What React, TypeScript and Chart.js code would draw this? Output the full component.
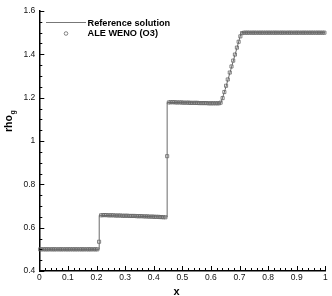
import React, { useEffect, useRef } from "react";
import { Chart, registerables } from "chart.js";

Chart.register(...registerables);

// Reference (exact) solution polyline
const refX = [0, 0.2095, 0.2095, 0.447, 0.447, 0.635, 0.65, 0.67, 0.69, 0.706, 1];
const refY = [0.5, 0.5, 0.657, 0.649, 1.178, 1.175, 1.238, 1.331, 1.424, 1.5, 1.5];

// ALE WENO (O3) cell values
const wenoX = [
  0.003, 0.009, 0.016, 0.022, 0.028, 0.034, 0.041, 0.047,
  0.053, 0.059, 0.066, 0.072, 0.078, 0.084, 0.091, 0.097,
  0.103, 0.109, 0.116, 0.122, 0.128, 0.134, 0.141, 0.147,
  0.153, 0.159, 0.166, 0.172, 0.178, 0.184, 0.191, 0.197,
  0.203, 0.209, 0.216, 0.222, 0.228, 0.234, 0.241, 0.247,
  0.253, 0.259, 0.266, 0.272, 0.278, 0.284, 0.291, 0.297,
  0.303, 0.309, 0.316, 0.322, 0.328, 0.334, 0.341, 0.347,
  0.353, 0.359, 0.366, 0.372, 0.378, 0.384, 0.391, 0.397,
  0.403, 0.409, 0.416, 0.422, 0.428, 0.434, 0.441, 0.447,
  0.453, 0.459, 0.466, 0.472, 0.478, 0.484, 0.491, 0.497,
  0.503, 0.509, 0.516, 0.522, 0.528, 0.534, 0.541, 0.547,
  0.553, 0.559, 0.566, 0.572, 0.578, 0.584, 0.591, 0.597,
  0.603, 0.609, 0.616, 0.622, 0.628, 0.634, 0.641, 0.647,
  0.653, 0.659, 0.666, 0.672, 0.678, 0.684, 0.691, 0.697,
  0.703, 0.709, 0.716, 0.722, 0.728, 0.734, 0.741, 0.747,
  0.753, 0.759, 0.766, 0.772, 0.778, 0.784, 0.791, 0.797,
  0.803, 0.809, 0.816, 0.822, 0.828, 0.834, 0.841, 0.847,
  0.853, 0.859, 0.866, 0.872, 0.878, 0.884, 0.891, 0.897,
  0.903, 0.909, 0.916, 0.922, 0.928, 0.934, 0.941, 0.947,
  0.953, 0.959, 0.966, 0.972, 0.978, 0.984, 0.991, 0.997,
];
const wenoY = [
  0.5, 0.5, 0.5, 0.5, 0.5, 0.5, 0.5, 0.5,
  0.5, 0.5, 0.5, 0.5, 0.5, 0.5, 0.5, 0.5,
  0.5, 0.5, 0.5, 0.5, 0.5, 0.5, 0.5, 0.5,
  0.5, 0.5, 0.5, 0.5, 0.5, 0.5, 0.5, 0.5,
  0.5, 0.535, 0.657, 0.658, 0.658, 0.658, 0.657, 0.657,
  0.657, 0.657, 0.656, 0.656, 0.656, 0.656, 0.655, 0.655,
  0.655, 0.655, 0.654, 0.654, 0.654, 0.654, 0.653, 0.653,
  0.653, 0.653, 0.652, 0.652, 0.652, 0.651, 0.651, 0.651,
  0.65, 0.65, 0.65, 0.649, 0.649, 0.648, 0.648, 0.93,
  1.178, 1.179, 1.179, 1.179, 1.178, 1.178, 1.178, 1.178,
  1.177, 1.177, 1.177, 1.177, 1.176, 1.176, 1.176, 1.176,
  1.176, 1.175, 1.175, 1.175, 1.175, 1.175, 1.174, 1.174,
  1.174, 1.174, 1.174, 1.174, 1.174, 1.177, 1.198, 1.226,
  1.255, 1.284, 1.316, 1.344, 1.371, 1.399, 1.431, 1.458,
  1.483, 1.498, 1.5, 1.5, 1.5, 1.5, 1.5, 1.5,
  1.5, 1.5, 1.5, 1.5, 1.5, 1.5, 1.5, 1.5,
  1.5, 1.5, 1.5, 1.5, 1.5, 1.5, 1.5, 1.5,
  1.5, 1.5, 1.5, 1.5, 1.5, 1.5, 1.5, 1.5,
  1.5, 1.5, 1.5, 1.5, 1.5, 1.5, 1.5, 1.5,
  1.5, 1.5, 1.5, 1.5, 1.5, 1.5, 1.5, 1.5,
];

const legendLabels = ["Reference solution", "ALE WENO (O3)"];
const xTitle = "x";
const yTitle = "rho";
const yTitleSub = "g";

const xRange = [0, 1];
const yRange = [0.4, 1.6];
const xMajorStep = 0.1;
const xMinorStep = 0.02;
const yMajorStep = 0.2;
const yMinorStep = 0.05;

const FONT = "'Liberation Sans', Arial, Helvetica, sans-serif";

const overlay = {
  id: "overlay",
  afterDraw(chart: any) {
    const { ctx, scales } = chart;
    const xs = scales.x;
    const ys = scales.y;
    const x0 = xs.left;
    const yb = ys.bottom;
    ctx.save();
    ctx.strokeStyle = "#000";
    ctx.lineWidth = 1;
    // x ticks (inward)
    const nx = Math.round((xRange[1] - xRange[0]) / xMinorStep);
    const xr = Math.round(xMajorStep / xMinorStep);
    for (let i = 0; i <= nx; i++) {
      const v = xRange[0] + i * xMinorStep;
      const px = Math.round(xs.getPixelForValue(v)) + 0.5;
      const len = i % xr === 0 ? 5 : 3;
      ctx.beginPath();
      ctx.moveTo(px, yb);
      ctx.lineTo(px, yb - len);
      ctx.stroke();
    }
    const ny = Math.round((yRange[1] - yRange[0]) / yMinorStep);
    const yr = Math.round(yMajorStep / yMinorStep);
    for (let i = 0; i <= ny; i++) {
      const v = yRange[0] + i * yMinorStep;
      const py = Math.round(ys.getPixelForValue(v)) + 0.5;
      const len = i % yr === 0 ? 5 : 3;
      ctx.beginPath();
      ctx.moveTo(x0, py);
      ctx.lineTo(x0 + len, py);
      ctx.stroke();
    }

    // legend
    ctx.strokeStyle = "#777";
    ctx.lineWidth = 1;
    ctx.beginPath();
    ctx.moveTo(46, 22.5);
    ctx.lineTo(86, 22.5);
    ctx.stroke();
    ctx.strokeStyle = "#666";
    ctx.lineWidth = 0.8;
    ctx.beginPath();
    ctx.arc(66, 33.5, 1.8, 0, Math.PI * 2);
    ctx.stroke();
    ctx.fillStyle = "#000";
    ctx.font = `bold 9.2px ${FONT}`;
    ctx.textBaseline = "alphabetic";
    ctx.textAlign = "left";
    ctx.fillText(legendLabels[0], 87.5, 25.5);
    ctx.fillText(legendLabels[1], 87.5, 36);

    // x title
    ctx.font = `bold 11px ${FONT}`;
    ctx.textAlign = "center";
    ctx.fillText(xTitle, 176.5, 295);

    // y title (rotated) with subscript
    ctx.save();
    ctx.translate(12, 132);
    ctx.rotate(-Math.PI / 2);
    ctx.textAlign = "left";
    ctx.font = `bold 10.5px ${FONT}`;
    ctx.fillText(yTitle, 0, 0);
    const w = ctx.measureText(yTitle).width;
    ctx.font = `bold 7px ${FONT}`;
    ctx.fillText(yTitleSub, w + 0.5, 2.5);
    ctx.restore();

    ctx.restore();
  },
};

export default function App() {
  const ref = useRef<HTMLCanvasElement | null>(null);
  useEffect(() => {
    if (!ref.current) return;
    const chart = new Chart(ref.current, {
      type: "scatter",
      data: {
        datasets: [
          {
            label: legendLabels[0],
            data: refX.map((x, i) => ({ x, y: refY[i] })),
            showLine: true,
            borderColor: "#6a6a6a",
            borderWidth: 1,
            pointRadius: 0,
            fill: false,
            order: 2,
          } as any,
          {
            label: legendLabels[1],
            data: wenoX.map((x, i) => ({ x, y: wenoY[i] })),
            showLine: false,
            pointStyle: "rect",
            pointRadius: 2.2,
            pointBorderWidth: 0.8,
            pointBorderColor: "#666",
            pointBackgroundColor: "rgba(255,255,255,0)",
            order: 1,
          } as any,
        ],
      },
      options: {
        animation: false,
        responsive: false,
        devicePixelRatio: 1,
        clip: false as any,
        layout: { padding: { top: 11, right: 6.7, left: 0, bottom: 0 } },
        plugins: {
          legend: { display: false },
          tooltip: { enabled: false },
        },
        scales: {
          x: {
            type: "linear",
            min: xRange[0],
            max: xRange[1],
            afterFit: (s: any) => {
              s.height = 25;
            },
            grid: { display: false, drawTicks: false },
            border: { display: true, color: "#000", width: 1.5 },
            ticks: {
              stepSize: xMajorStep,
              padding: 2,
              color: "#111",
              font: { family: FONT, size: 8.5 },
              maxRotation: 0,
              autoSkip: false,
              callback: (v: any) => String(Math.round(Number(v) * 10) / 10),
            },
          },
          y: {
            type: "linear",
            min: yRange[0],
            max: yRange[1],
            afterFit: (s: any) => {
              s.width = 39.3;
            },
            grid: { display: false, drawTicks: false },
            border: { display: true, color: "#000", width: 1.5 },
            ticks: {
              stepSize: yMajorStep,
              padding: 4,
              color: "#111",
              font: { family: FONT, size: 8.5 },
              autoSkip: false,
              callback: (v: any) => String(Math.round(Number(v) * 10) / 10),
            },
          },
        },
      },
      plugins: [overlay],
    });
    return () => chart.destroy();
  }, []);
  return (
    <div style={{ position: "fixed", left: 0, top: 0, width: 332, height: 296, background: "#fff" }}>
      <canvas ref={ref} width={332} height={296} style={{ display: "block", width: 332, height: 296 }} />
    </div>
  );
}
